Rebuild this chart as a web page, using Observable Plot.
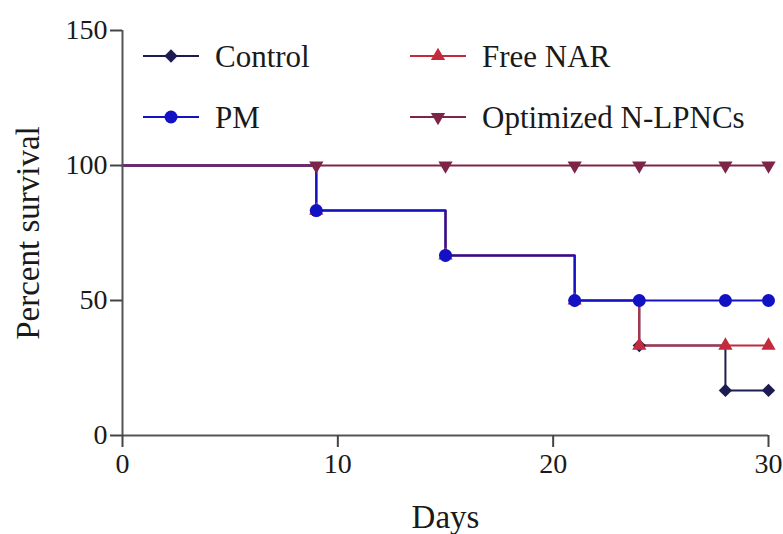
<!DOCTYPE html>
<html><head><meta charset="utf-8">
<script src="https://cdn.jsdelivr.net/npm/d3@7"></script>
<script src="https://cdn.jsdelivr.net/npm/@observablehq/plot@0.6"></script>
<style>body{margin:0;background:#fff}</style>
</head><body><div id="chart"></div>
<script>
const days = [0, 9, 15, 21, 24, 28, 30];
const seriesNames = ["Control", "PM", "Free NAR", "Optimized N-LPNCs"];
const controlValues = [100, 83.3, 66.7, 50, 33.3, 16.7, 16.7];
const pmValues = [100, 83.3, 66.7, 50, 50, 50, 50];
const freeNarValues = [100, 83.3, 66.7, 50, 33.3, 33.3, 33.3];
const optimizedValues = [100, 100, 100, 100, 100, 100, 100];
const xTicks = [0, 10, 20, 30];
const yTicks = [0, 50, 100, 150];
const xTitle = "Days";
const yTitle = "Percent survival";

const styles = {
  "Control": {color: "#1c1c52", symbol: "diamond2", r: 6, rotate: 0},
  "PM": {color: "#1212c4", symbol: "circle", r: 6.5, rotate: 0},
  "Free NAR": {color: "#c42a3c", symbol: "triangle", r: 5.3, rotate: 0},
  "Optimized N-LPNCs": {color: "#7e2448", symbol: "triangle", r: 5.3, rotate: 180}
};
const valuesBy = {
  "Control": controlValues, "PM": pmValues,
  "Free NAR": freeNarValues, "Optimized N-LPNCs": optimizedValues
};
const order = ["Control", "Free NAR", "PM", "Optimized N-LPNCs"];
const font = "'Liberation Serif', 'Times New Roman', serif";

const marks = [];
for (const name of order) {
  const data = days.map((d, i) => ({day: d, pct: valuesBy[name][i]}));
  const s = styles[name];
  marks.push(Plot.line(data, {x: "day", y: "pct", curve: "step-after", stroke: s.color, strokeWidth: 2}));
}
for (const name of order) {
  const data = days.map((d, i) => ({day: d, pct: valuesBy[name][i]})).filter(d => d.day > 0);
  const s = styles[name];
  marks.push(Plot.dot(data, {x: "day", y: "pct", symbol: s.symbol, r: s.r, fill: s.color, stroke: "none", rotate: s.rotate}));
}
marks.push(Plot.ruleX([0], {stroke: "#555", strokeWidth: 2}));
marks.push(Plot.ruleY([0], {stroke: "#555", strokeWidth: 2}));
marks.push(Plot.axisX({ticks: xTicks, tickSize: 12, tickPadding: 6, stroke: "#444", strokeWidth: 2, fill: "#1a1a1a", fontSize: 28, label: null}));
marks.push(Plot.axisY({ticks: yTicks, tickSize: 12, tickPadding: 3, stroke: "#444", strokeWidth: 2, fill: "#1a1a1a", fontSize: 28, label: null}));
marks.push(Plot.text([xTitle], {text: d => d, frameAnchor: "bottom", dy: 92, lineAnchor: "bottom", textAnchor: "middle", fontSize: 33, fill: "#1a1a1a"}));
marks.push(Plot.text([yTitle], {text: d => d, frameAnchor: "left", dx: -94, rotate: -90, lineAnchor: "middle", textAnchor: "middle", fontSize: 33, fill: "#1a1a1a"}));

const plot = Plot.plot({
  width: 783, height: 534,
  marginLeft: 122, marginRight: 15, marginTop: 30, marginBottom: 99,
  x: {domain: [0, 30]},
  y: {domain: [0, 150]},
  style: {fontFamily: font, fontSize: "28px", background: "#fff", color: "#1a1a1a"},
  marks
});

document.getElementById("chart").appendChild(plot);

// legend
const svg = d3.select(plot);
const legendItems = [
  {name: "Control", x: 143, y: 56},
  {name: "PM", x: 143, y: 117},
  {name: "Free NAR", x: 410, y: 56},
  {name: "Optimized N-LPNCs", x: 410, y: 117}
];
const symMap = {diamond2: d3.symbolDiamond2, circle: d3.symbolCircle, triangle: d3.symbolTriangle};
const lg = svg.append("g").attr("font-family", font).attr("font-size", 31).attr("fill", "#1a1a1a").attr("text-anchor", "start");
for (const it of legendItems) {
  const s = styles[it.name];
  const g = lg.append("g").attr("transform", `translate(${it.x},${it.y})`);
  g.append("line").attr("x1", 0).attr("x2", 56).attr("y1", 0).attr("y2", 0).attr("stroke", s.color).attr("stroke-width", 2);
  g.append("path").attr("d", d3.symbol(symMap[s.symbol], Math.PI * s.r * s.r)())
    .attr("transform", `translate(28,0) rotate(${s.rotate})`).attr("fill", s.color);
  g.append("text").attr("x", 72).attr("y", 0).attr("dy", "0.35em").text(it.name);
}
</script>
</body></html>
